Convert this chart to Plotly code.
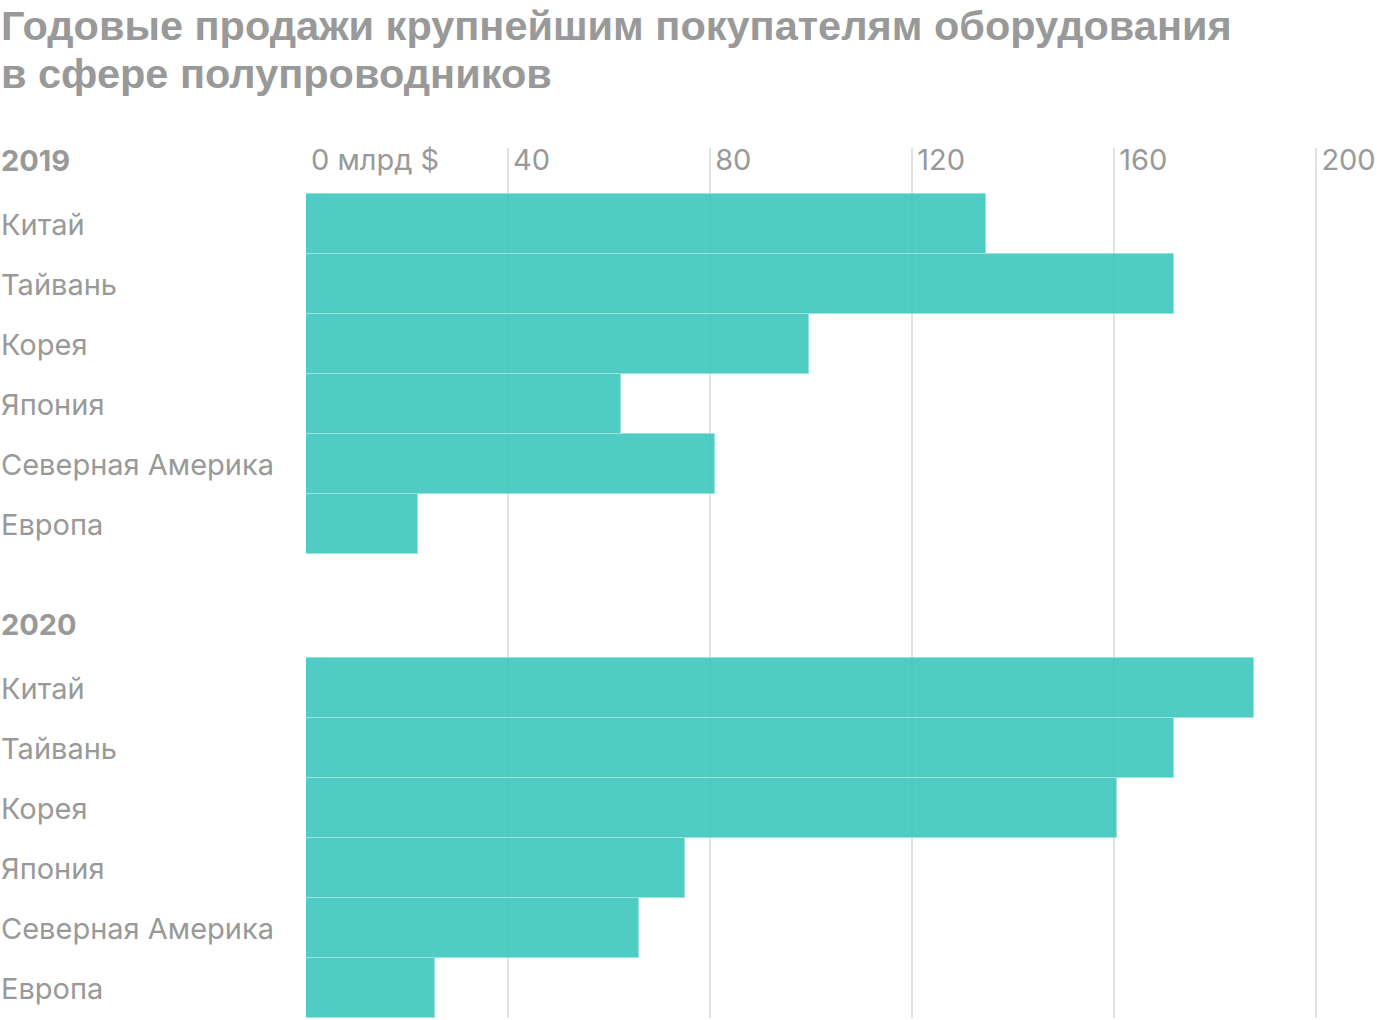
import plotly.graph_objects as go

# ---- data ----
regions = ["Китай", "Тайвань", "Корея", "Япония", "Северная Америка", "Европа"]
sales_2019 = [134.6, 171.8, 99.6, 62.4, 81.0, 22.1]
sales_2020 = [187.6, 171.8, 160.6, 75.0, 65.9, 25.6]
years = ["2019", "2020"]
x_tick_vals = [0, 40, 80, 120, 160, 200]
x_tick_text = ["0 млрд $", "40", "80", "120", "160", "200"]
title_lines = ["Годовые продажи крупнейшим покупателям оборудования",
               "в сфере полупроводников"]

# ---- styling / layout constants ----
W, H = 1400, 1020
ML, MT, MB = 306, 148, 2
X_MAX = 212
PX_PER_UNIT = 5.05
plot_w = round(X_MAX * PX_PER_UNIT)
MR = W - ML - plot_w
plot_h = H - MT - MB
GROUP_OFFSET = 464 / 60          # rows between the two groups' first bars
HEADER_OFFSET = -64 / 60         # year header position relative to first bar
TEXT = "#999999"
BAR = "rgb(61,199,189)"
BAR_LINE = "rgba(140,225,219,1)"
FONT = "Inter"
TITLE_FONT = "Liberation Sans"
FS = 29
TITLE_LINE_CENTERS = [25, 74]     # px from top

fig = go.Figure()
series = [sales_2019, sales_2020]
for gi, vals in enumerate(series):
    ys = [gi * GROUP_OFFSET + i for i in range(len(regions))]
    fig.add_trace(go.Bar(
        x=vals, y=ys, orientation="h", width=1,
        marker=dict(color=BAR, line=dict(color=BAR_LINE, width=1)),
        opacity=0.9, showlegend=False, hoverinfo="x",
    ))
    for i, name in enumerate(regions):
        fig.add_annotation(
            x=-ML / plot_w, xref="paper", y=ys[i], yref="y",
            text=name, showarrow=False, xanchor="left", yanchor="middle",
            borderpad=0, font=dict(family=FONT, size=FS, color=TEXT),
        )
    fig.add_annotation(
        x=-ML / plot_w, xref="paper", y=gi * GROUP_OFFSET + HEADER_OFFSET, yref="y",
        text="<b>%s</b>" % years[gi], showarrow=False, xanchor="left", yanchor="middle",
        borderpad=0, font=dict(family=FONT, size=FS, color=TEXT),
    )

# title (one annotation per line for tighter leading)
for line, cy in zip(title_lines, TITLE_LINE_CENTERS):
    fig.add_annotation(
        x=-ML / plot_w, xref="paper", y=1 + (MT - cy) / plot_h, yref="paper",
        text="<b>%s</b>" % line, showarrow=False,
        xanchor="left", yanchor="middle", align="left", borderpad=0,
        font=dict(family=TITLE_FONT, size=41.5, color=TEXT),
    )

top_row = -76 / 60
bottom_row = GROUP_OFFSET + len(regions) - 1 + 0.5

fig.update_layout(
    width=W, height=H,
    margin=dict(l=ML, r=MR, t=MT, b=MB, pad=0),
    paper_bgcolor="white", plot_bgcolor="white",
    bargap=0,
    xaxis=dict(
        range=[0, X_MAX], side="top", tickvals=x_tick_vals, ticktext=x_tick_text,
        ticklabelposition="inside right", ticks="", ticklabelshift=5,
        ticklabelstandoff=-4,
        showgrid=True, gridcolor="#e2e2e2", gridwidth=1.5,
        zeroline=False, showline=False,
        tickfont=dict(family=FONT, size=FS, color=TEXT),
    ),
    yaxis=dict(
        range=[bottom_row, top_row], showticklabels=False, showgrid=False,
        zeroline=False, showline=False,
    ),
)

fig.write_html("out.html", config={"displayModeBar": False},
               post_script="document.body.style.margin='0';")
